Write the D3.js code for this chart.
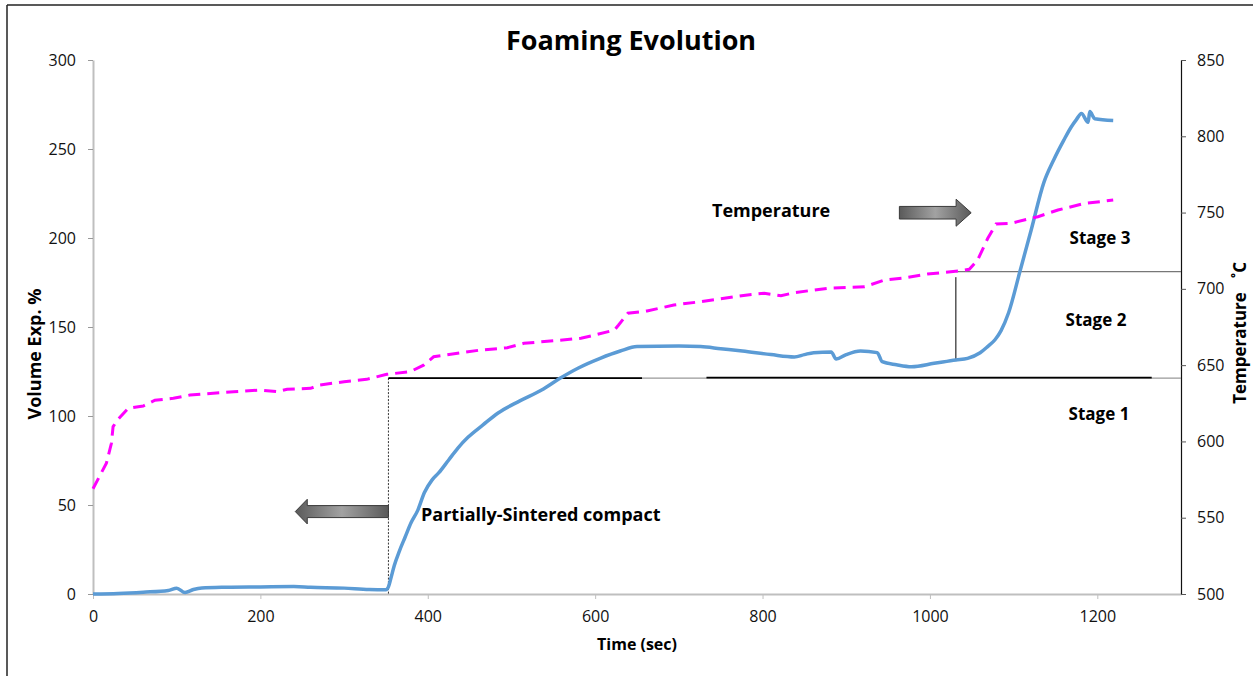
<!DOCTYPE html>
<html><head><meta charset="utf-8">
<script src="https://cdn.jsdelivr.net/npm/d3@7"></script>
<style>body{margin:0;background:#fff}svg{display:block}text{font-family:"Open Sans",Lato,sans-serif}</style>
</head><body>
<svg id="c" width="1253" height="676"></svg>
<script>
// ---- data ----
const volTime = [0,30,60,90,100,110,120,130,160,200,240,260,300,330,350,353,356,360,366,373,380,388,396,405,413,425,436,448,466,484,510,536,558,580,606,630,650,700,726,750,776,810,838,850,861,882,888,900,917,937,943,960,978,1005,1031,1045,1060,1069,1078,1085,1094,1108,1121,1136,1148,1160,1169,1175,1181,1189,1191,1197,1219];
const volValue = [0,0.3,1,2,3.3,0.8,2.5,3.4,3.8,4,4.2,3.8,3.3,2.5,2.4,4,9,16,24,32,40,47,57,64,68,75.3,82,88,95,101.7,108.5,114.6,121.2,127,132.4,136.5,139,139.3,139,137.8,136.5,134.5,133.2,134.5,135.6,136,132,134.5,136.5,135.6,130.5,128.8,127.7,129.6,131.5,132.4,135.5,139,143,148,158,182,204.5,231,244,255,262.5,266.5,270,265,271,267,266];
const tempTime = [0,16,22,24,30,42,60,74,96,116,168,200,220,232,260,271,300,327,351,379,395,407,463,495,515,551,583,599,623,628,639,662,694,726,782,802,822,838,878,922,946,966,997,1037,1047,1057,1069,1079,1097,1129,1153,1185,1219];
const tempValue = [569,585.7,598.8,609.7,614.5,621.7,623.2,627,628.3,630.4,632.6,633.7,632.6,634.2,634.8,637,639.1,640.7,644,645.7,650,655.5,659.9,661.4,664.3,666,667.6,669.7,673,676.3,684,685.5,689.4,691.6,696,697.1,695.5,697.5,700.4,701.4,705.8,706.9,709.7,711.9,712.8,718.9,733,742.5,743,747.3,751.7,756,758.2];
const xTicks = [0,200,400,600,800,1000,1200];
const yLeftTicks = [0,50,100,150,200,250,300];
const yRightTicks = [500,550,600,650,700,750,800,850];
const stage12Level = 121.3;     // volume % boundary between stage 1 and 2
const stage23Level = 181.1;     // volume % boundary between stage 2 and 3
const sinterTime = 353, stage3Time = 1031;

// ---- scales ----
const svg = d3.select("#c");
const x = d3.scaleLinear().domain([0,1300]).range([93,1181]);
const yL = d3.scaleLinear().domain([0,300]).range([594,60]);
const yR = d3.scaleLinear().domain([500,850]).range([594,60]);

// frame
svg.append("line").attr("x1",7).attr("x2",7).attr("y1",5).attr("y2",676).attr("stroke","#222").attr("stroke-width",1.5);
svg.append("line").attr("x1",7).attr("x2",1253).attr("y1",5).attr("y2",5).attr("stroke","#222").attr("stroke-width",1.5);

// gradient for arrows
const defs = svg.append("defs");
const g = defs.append("linearGradient").attr("id","ag").attr("x1","0").attr("x2","1").attr("y1","0").attr("y2","0");
g.append("stop").attr("offset","0").attr("stop-color","#5a5a5a");
g.append("stop").attr("offset","0.5").attr("stop-color","#a2a2a2");
g.append("stop").attr("offset","1").attr("stop-color","#5a5a5a");

// axes
const fmt = d3.format("d");
const ax = svg.append("g").attr("transform","translate(0,594)")
  .call(d3.axisBottom(x).tickValues(xTicks).tickFormat(fmt).tickSize(5).tickSizeOuter(0).tickPadding(12));
ax.select(".domain").attr("stroke","#bfbfbf").attr("stroke-width",2);
ax.selectAll(".tick line").attr("stroke","#bfbfbf");
const al = svg.append("g").attr("transform","translate(93,0)")
  .call(d3.axisLeft(yL).tickValues(yLeftTicks).tickFormat(fmt).tickSize(5).tickSizeOuter(0).tickPadding(12));
al.select(".domain").attr("stroke","#bfbfbf").attr("stroke-width",2);
al.selectAll(".tick line").attr("stroke","#999");
const ar = svg.append("g").attr("transform","translate(1181,0)")
  .call(d3.axisRight(yR).tickValues(yRightTicks).tickFormat(fmt).tickSize(5).tickSizeOuter(0).tickPadding(11));
ar.select(".domain").attr("stroke","#111").attr("stroke-width",1.2);
ar.selectAll(".tick line").attr("stroke","#555");
svg.selectAll(".tick text").attr("font-family","Open Sans").attr("font-size",16).attr("fill","#111");

// annotation lines
svg.append("line").attr("x1",x(sinterTime)).attr("x2",x(1300)).attr("y1",yL(stage12Level)).attr("y2",yL(stage12Level)).attr("stroke","#999").attr("stroke-width",1.3);
svg.append("line").attr("x1",x(sinterTime)).attr("x2",x(656)).attr("y1",yL(stage12Level)).attr("y2",yL(stage12Level)).attr("stroke","#000").attr("stroke-width",1.8);
svg.append("line").attr("x1",x(733)).attr("x2",x(1265)).attr("y1",yL(stage12Level)-0.5).attr("y2",yL(stage12Level)-0.5).attr("stroke","#000").attr("stroke-width",1.8);
svg.append("line").attr("x1",x(stage3Time)).attr("x2",x(1300)).attr("y1",yL(stage23Level)).attr("y2",yL(stage23Level)).attr("stroke","#777").attr("stroke-width",1.3);
svg.append("line").attr("x1",x(sinterTime)).attr("x2",x(sinterTime)).attr("y1",yL(stage12Level)).attr("y2",yL(0)).attr("stroke","#000").attr("stroke-width",0.8).attr("stroke-dasharray","2,1.5");
svg.append("line").attr("x1",x(stage3Time)).attr("x2",x(stage3Time)).attr("y1",yL(178)).attr("y2",yL(131.5)).attr("stroke","#000").attr("stroke-width",1);

// series
const lineV = d3.line().curve(d3.curveMonotoneX).x((d,i)=>x(volTime[i])).y(d=>yL(d));
svg.append("path").attr("d",lineV(volValue)).attr("fill","none").attr("stroke","#5B9BD5").attr("stroke-width",3.5).attr("stroke-linejoin","round");
const lineT = d3.line().x((d,i)=>x(tempTime[i])).y(d=>yR(d));
svg.append("path").attr("d",lineT(tempValue)).attr("fill","none").attr("stroke","#FF00FF").attr("stroke-width",3).attr("stroke-dasharray","12,7");

// arrows
function arrow(tTail, tBase, tTip, vc, halfBody, halfHead){
  const pts = [[x(tTail),yL(vc)-halfBody],[x(tBase),yL(vc)-halfBody],[x(tBase),yL(vc)-halfHead],[x(tTip),yL(vc)],
               [x(tBase),yL(vc)+halfHead],[x(tBase),yL(vc)+halfBody],[x(tTail),yL(vc)+halfBody]];
  svg.append("path").attr("d","M"+pts.map(p=>p.join(",")).join("L")+"Z").attr("fill","url(#ag)").attr("stroke","#3a3a3a").attr("stroke-width",1);
}
arrow(353, 256, 241.7, 46.3, 6, 12.3);
arrow(963.5, 1031.3, 1049.3, 214.2, 6.3, 13.5);

// texts
svg.append("text").attr("x",631).attr("y",50).attr("text-anchor","middle").attr("font-weight",700).attr("font-size",27).text("Foaming Evolution");
svg.append("text").attr("x",637).attr("y",650).attr("text-anchor","middle").attr("font-weight",700).attr("font-size",16).text("Time (sec)");
svg.append("text").attr("transform","translate(41,354) rotate(-90)").attr("text-anchor","middle").attr("font-weight",700).attr("font-size",18).text("Volume Exp. %");
svg.append("text").attr("transform","translate(1246,348) rotate(-90)").attr("text-anchor","middle").attr("font-weight",700).attr("font-size",17).text("Temperature");
svg.append("text").attr("transform","translate(1246,270) rotate(-90)").attr("text-anchor","middle").attr("font-weight",700).attr("font-size",17).text("\u02DAC");
svg.append("text").attr("x",421).attr("y",521).attr("font-weight",700).attr("font-size",18).text("Partially-Sintered compact");
svg.append("text").attr("x",712).attr("y",217).attr("font-weight",700).attr("font-size",18).text("Temperature");
svg.append("text").attr("x",1100).attr("y",244).attr("text-anchor","middle").attr("font-weight",700).attr("font-size",17).text("Stage 3");
svg.append("text").attr("x",1096).attr("y",326).attr("text-anchor","middle").attr("font-weight",700).attr("font-size",17).text("Stage 2");
svg.append("text").attr("x",1099).attr("y",420).attr("text-anchor","middle").attr("font-weight",700).attr("font-size",17).text("Stage 1");
</script>
</body></html>
